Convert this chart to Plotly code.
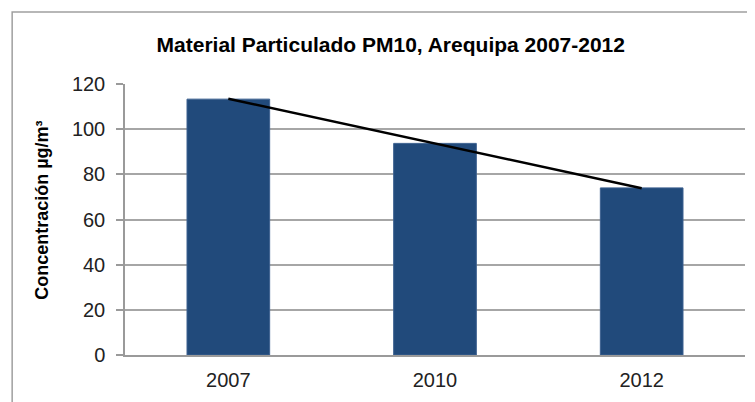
import plotly.graph_objects as go

years = ["2007", "2010", "2012"]
pm10 = [113.3, 93.7, 74.0]
# linear trend line, end points
trend_years = ["2007", "2012"]
trend_values = [113.5, 73.8]
y_ticks = [0, 20, 40, 60, 80, 100, 120]

fig = go.Figure()

fig.add_trace(go.Bar(x=years, y=pm10, marker_color="#214a7b",
                     marker_line=dict(color="#3d6190", width=1), width=0.4))
fig.add_trace(go.Scatter(x=trend_years, y=trend_values, mode="lines",
                         line=dict(color="black", width=2.5)))

fig.update_layout(
    width=755, height=402,
    margin=dict(l=117, r=18, t=76, b=55, autoexpand=False),
    paper_bgcolor="white", plot_bgcolor="white",
    showlegend=False,
    font=dict(family="Liberation Sans, Arial, sans-serif", color="#222222"),
    title=dict(text="<b>Material Particulado PM10, Arequipa 2007-2012</b>",
               x=0.507, xanchor="center", y=0.91, yanchor="middle",
               font=dict(size=21, color="black")),
    shapes=[dict(type="rect", xref="paper", yref="paper",
                 x0=-0.182, x1=1.02, y0=-0.25, y1=1.2657,
                 line=dict(color="#a0a0a0", width=1.5))],
    annotations=[dict(text="<b>Concentración µg/m³</b>", textangle=-90,
                      xref="paper", yref="paper", x=-0.135, y=0.533,
                      xanchor="center", yanchor="middle", showarrow=False,
                      font=dict(size=18, color="black"))],
)

fig.update_xaxes(showline=True, linecolor="#9a9a9a", linewidth=1.5,
                 ticks="", ticklabelstandoff=6, tickfont=dict(size=20),
                 automargin=False)
fig.update_yaxes(range=[0, 120], tickvals=y_ticks,
                 showgrid=True, gridcolor="#a6a6a6", gridwidth=1.5,
                 showline=True, linecolor="#9a9a9a", linewidth=1.5,
                 ticks="outside", ticklen=7, tickcolor="#9a9a9a", tickwidth=1.5,
                 ticklabelstandoff=7, tickfont=dict(size=20),
                 zeroline=False, automargin=False)

fig.write_html("out.html")
